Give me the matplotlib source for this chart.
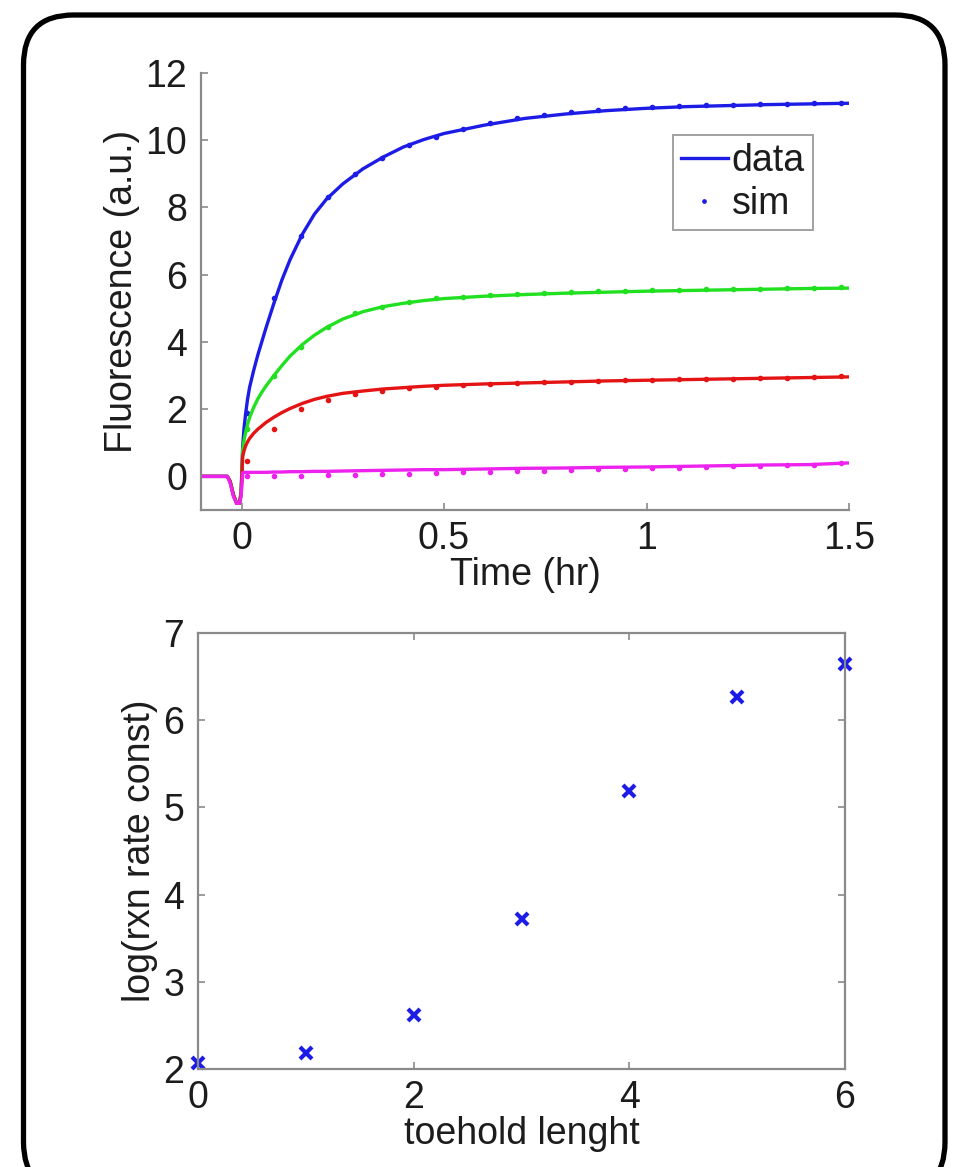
import matplotlib
matplotlib.use("Agg")
import matplotlib.pyplot as plt
from matplotlib.patches import FancyBboxPatch

plt.rcParams['font.family'] = ['Liberation Sans', 'DejaVu Sans']

# ---------------- data ----------------
t_line = [-0.1, -0.06, -0.035, -0.028, -0.02, -0.012, -0.005, -0.001, 0.003, 0.006,
          0.01, 0.015, 0.02, 0.03, 0.04, 0.05, 0.06, 0.08, 0.1, 0.12,
          0.15, 0.18, 0.21, 0.25, 0.3, 0.35, 0.4, 0.45, 0.5, 0.6,
          0.7, 0.8, 0.9, 1.0, 1.1, 1.2, 1.3, 1.4, 1.5]
blue_line = [0, 0, 0, -0.15, -0.55, -0.8, -0.8, -0.5, 0.9, 1.4,
             1.85, 2.3, 2.65, 3.15, 3.6, 4.0, 4.4, 5.15, 5.85, 6.45,
             7.2, 7.8, 8.25, 8.7, 9.15, 9.5, 9.8, 10.02, 10.2, 10.45,
             10.65, 10.78, 10.88, 10.95, 11.0, 11.03, 11.06, 11.08, 11.1]
green_line = [0, 0, 0, -0.15, -0.55, -0.8, -0.8, -0.5, 0.8, 1.05,
              1.3, 1.55, 1.75, 2.05, 2.3, 2.5, 2.68, 3.0, 3.3, 3.58,
              3.92, 4.2, 4.43, 4.68, 4.9, 5.05, 5.15, 5.23, 5.29, 5.36,
              5.41, 5.45, 5.48, 5.51, 5.53, 5.55, 5.57, 5.59, 5.6]
red_line = [0, 0, 0, -0.15, -0.55, -0.8, -0.8, -0.5, 0.6, 0.75,
            0.9, 1.03, 1.13, 1.28, 1.4, 1.5, 1.6, 1.76, 1.9, 2.02,
            2.17, 2.29, 2.38, 2.47, 2.54, 2.6, 2.64, 2.68, 2.71, 2.75,
            2.78, 2.81, 2.84, 2.86, 2.88, 2.9, 2.92, 2.94, 2.96]
magenta_line = [0, 0, 0, -0.2, -0.6, -0.8, -0.8, -0.6, 0.1, 0.12,
                0.12, 0.12, 0.12, 0.12, 0.12, 0.12, 0.12, 0.13, 0.13, 0.14,
                0.14, 0.15, 0.15, 0.16, 0.17, 0.18, 0.19, 0.2, 0.2, 0.22,
                0.24, 0.25, 0.27, 0.28, 0.3, 0.32, 0.34, 0.35, 0.4]

t_sim = [0.013, 0.08, 0.147, 0.213, 0.28, 0.347, 0.413, 0.48, 0.547, 0.613,
         0.68, 0.747, 0.813, 0.88, 0.947, 1.013, 1.08, 1.147, 1.213, 1.28,
         1.347, 1.413, 1.48]
blue_sim = [1.9, 5.3, 7.15, 8.3, 9.0, 9.47, 9.85, 10.1, 10.33, 10.5,
            10.65, 10.75, 10.84, 10.9, 10.95, 10.99, 11.02, 11.04, 11.06, 11.08,
            11.09, 11.1, 11.12]
green_sim = [1.4, 3.0, 3.85, 4.45, 4.85, 5.05, 5.2, 5.3, 5.35, 5.4,
             5.43, 5.46, 5.48, 5.5, 5.52, 5.53, 5.55, 5.56, 5.57, 5.58,
             5.59, 5.6, 5.62]
red_sim = [0.45, 1.4, 2.0, 2.28, 2.45, 2.55, 2.62, 2.67, 2.71, 2.75,
           2.78, 2.8, 2.82, 2.84, 2.86, 2.87, 2.89, 2.9, 2.91, 2.92,
           2.94, 2.95, 2.98]
magenta_sim = [0.0, 0.0, 0.02, 0.03, 0.05, 0.07, 0.08, 0.1, 0.12, 0.13,
               0.15, 0.17, 0.19, 0.21, 0.22, 0.24, 0.26, 0.28, 0.3, 0.31,
               0.33, 0.35, 0.4]

toehold = [0, 1, 2, 3, 4, 5, 6]
log_rate = [2.07, 2.18, 2.62, 3.72, 5.19, 6.27, 6.65]

top_xticks = [0, 0.5, 1, 1.5]
top_xticklabels = ['0', '0.5', '1', '1.5']
top_yticks = [0, 2, 4, 6, 8, 10, 12]
bot_xticks = [0, 2, 4, 6]
bot_yticks = [2, 3, 4, 5, 6, 7]

# ---------------- styling ----------------
W, H = 960, 1167
fig = plt.figure(figsize=(W / 100, H / 100), dpi=100)
FS = 27
TXT = '#1c1c1c'
SPINE = '#8a8a8a'
C_BLUE = '#1c1ce6'
C_GREEN = '#20e020'
C_RED = '#e41414'
C_MAG = '#ee22ee'


def px_axes(left, top, right, bottom):
    return fig.add_axes([left / W, 1 - bottom / H, (right - left) / W, (bottom - top) / H])


def style_axes(ax, box):
    for s in ax.spines.values():
        s.set_color(SPINE)
        s.set_linewidth(1.6)
    if not box:
        ax.spines['top'].set_visible(False)
        ax.spines['right'].set_visible(False)
    ax.tick_params(direction='in', length=5, width=1.2, color=SPINE,
                   labelsize=FS, labelcolor=TXT, top=box, right=box)
    ax.tick_params(axis='y', pad=10)
    ax.tick_params(axis='x', pad=8)


# ---------------- top axes ----------------
ax1 = px_axes(201, 73, 849, 510)
series = [(blue_line, blue_sim, C_BLUE), (green_line, green_sim, C_GREEN),
          (red_line, red_sim, C_RED), (magenta_line, magenta_sim, C_MAG)]
handles = []
for ln, sm, c in series:
    h1, = ax1.plot(t_line, ln, color=c, lw=2.4, solid_joinstyle='round')
    h2, = ax1.plot(t_sim, sm, ls='none', marker='.', ms=6, color=c)
    handles.append((h1, h2))
ax1.set_xlim(-0.1, 1.5)
ax1.set_ylim(-1, 12)
ax1.set_xticks(top_xticks)
ax1.set_xticklabels(top_xticklabels)
ax1.set_yticks(top_yticks)
style_axes(ax1, box=False)
ax1.set_xlabel('Time (hr)', fontsize=FS, color=TXT, labelpad=0)
ax1.set_ylabel('Fluorescence (a.u.)', fontsize=FS, color=TXT, labelpad=4)
leg = ax1.legend([handles[0][0], handles[0][1]], ['data', 'sim'],
                 loc='upper right', bbox_to_anchor=(813 / W, 1 - 135 / H),
                 bbox_transform=fig.transFigure, fontsize=FS, frameon=True,
                 fancybox=False, handlelength=1.25, handletextpad=0.1,
                 borderpad=0.22, labelspacing=0.18, borderaxespad=0,
                 markerscale=0.8)
leg.get_frame().set_edgecolor(SPINE)
leg.get_frame().set_linewidth(1.4)
for t in leg.get_texts():
    t.set_color(TXT)

# ---------------- bottom axes ----------------
ax2 = px_axes(198, 633, 845, 1069)
ax2.plot(toehold, log_rate, ls='none', marker='x', ms=9, mew=3, color=C_BLUE,
         clip_on=False)
ax2.set_xlim(0, 6)
ax2.set_ylim(2, 7)
ax2.set_xticks(bot_xticks)
ax2.set_yticks(bot_yticks)
style_axes(ax2, box=True)
ax2.set_xlabel('toehold lenght', fontsize=FS, color=TXT, labelpad=0)
ax2.set_ylabel('log(rxn rate const)', fontsize=FS, color=TXT, labelpad=4)

# ---------------- rounded border ----------------
border = FancyBboxPatch((0.235, -0.25), 9.45 - 0.235, 11.52 + 0.25,
                        boxstyle='round,pad=0,rounding_size=0.5',
                        transform=fig.dpi_scale_trans, fill=False,
                        edgecolor='black', linewidth=3.8, clip_on=False)
fig.patches.append(border)

fig.savefig('out.png', dpi=100)
